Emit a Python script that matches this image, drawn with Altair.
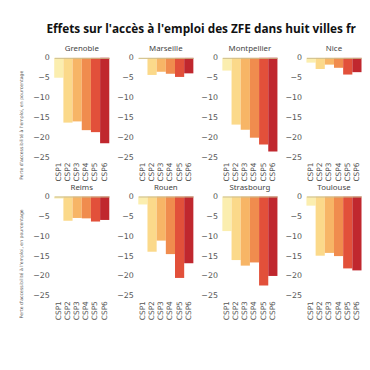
import altair as alt
import pandas as pd

csp = ["CSP1", "CSP2", "CSP3", "CSP4", "CSP5", "CSP6"]
cities = ["Grenoble", "Marseille", "Montpellier", "Nice",
          "Reims", "Rouen", "Strasbourg", "Toulouse"]
grenoble = [-5.0, -16.3, -16.0, -18.2, -18.7, -21.5]
marseille = [-0.3, -4.3, -3.5, -4.0, -4.8, -3.9]
montpellier = [-3.2, -16.8, -18.1, -20.1, -21.8, -23.6]
nice = [-1.2, -2.8, -1.7, -2.5, -4.2, -3.6]
reims = [-0.5, -6.1, -5.4, -5.5, -6.3, -5.9]
rouen = [-2.0, -13.9, -11.1, -14.5, -20.5, -16.8]
strasbourg = [-8.7, -16.0, -17.4, -16.6, -22.4, -20.0]
toulouse = [-2.3, -14.9, -14.2, -15.0, -18.1, -18.6]
series = [grenoble, marseille, montpellier, nice, reims, rouen, strasbourg, toulouse]
colors = ["#fbeeaf", "#fbd98a", "#f7b566", "#f08c4e", "#e2503a", "#c0272e"]
y_ticks = [-25, -20, -15, -10, -5, 0]
y_title = "Perte d'accessibilité à l'emploi, en pourcentage"
main_title = "Effets sur l'accès à l'emploi des ZFE dans huit villes françaises"

W, H = 56, 103


def panel(city, vals, first):
    df = pd.DataFrame({"csp": csp, "val": vals})
    yaxis = dict(values=y_ticks, ticks=False, domain=False, grid=True,
                 gridColor=alt.condition("datum.value == 0",
                                         alt.value("#cbbd8e"), alt.value("transparent")),
                 gridWidth=1, zindex=1,
                 labelOverlap=False, labelFlush=False,
                 labelFont="DejaVu Sans", labelFontSize=8,
                 labelColor="#555555", labelPadding=5)
    if first:
        yaxis.update(title=y_title, titleFont="DejaVu Sans", titleFontSize=4.7,
                     titleFontWeight="normal", titleColor="#555555",
                     titlePadding=9, titleY=68)
    else:
        yaxis.update(title=None)
    bars = alt.Chart(df).mark_bar().encode(
        x=alt.X("csp:N", sort=csp,
                scale=alt.Scale(paddingInner=0, paddingOuter=0),
                axis=alt.Axis(title=None, labelAngle=-90, ticks=False, domain=False,
                              grid=False, labelOverlap=False,
                              labelFont="DejaVu Sans", labelFontSize=7.5,
                              labelColor="#555555", labelPadding=3,
                              labelAlign="right", labelBaseline="middle")),
        y=alt.Y("val:Q",
                scale=alt.Scale(domain=[-25.5, 0], nice=False, zero=False),
                axis=alt.Axis(**yaxis)),
        color=alt.Color("csp:N", scale=alt.Scale(domain=csp, range=colors), legend=None),
    )
    return bars.properties(
        width=W, height=H,
        title=alt.TitleParams(city, font="Noto Sans", fontSize=8, fontWeight="normal",
                              color="#444444", offset=3, dy=2))


panels = [panel(c, v, i % 4 == 0) for i, (c, v) in enumerate(zip(cities, series))]
chart = alt.concat(*panels, columns=4, spacing={"row": 38, "column": 29.5},
                   bounds="flush").properties(
    title=alt.TitleParams(main_title, font="Open Sans", fontSize=12, fontWeight="bold",
                          color="#111111", anchor="start", offset=9, dx=28, limit=323),
    padding={"left": 11, "top": 13, "right": 0, "bottom": 5},
).configure(
    style={"group-title": {"ellipsis": " "}}
).configure_view(stroke=None)

chart.save("out.html", embed_options={"renderer": "svg", "actions": False})
